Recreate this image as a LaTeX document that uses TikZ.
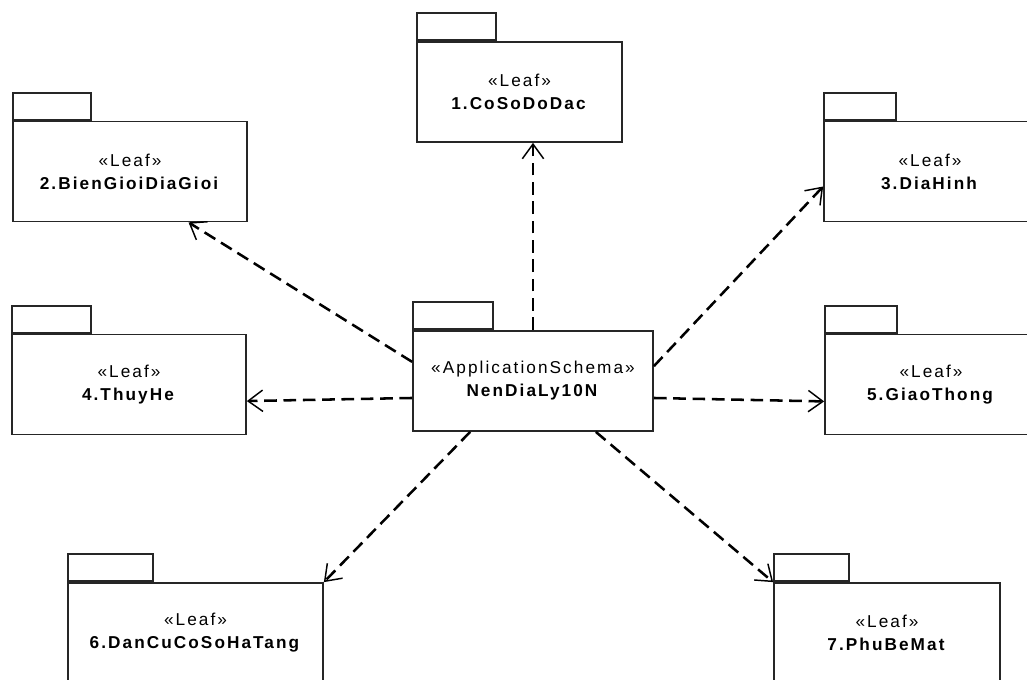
\documentclass[tikz,border=0pt]{standalone}
\usepackage{fontspec}
\setmainfont{Liberation Sans}[LetterSpace=12]
\usetikzlibrary{arrows.meta}
\tikzset{
    pkg/.style={draw=black!85, line width=1.3pt, fill=white, rectangle, minimum height=75pt, inner sep=0pt, align=center, font=\fontsize{12.9}{17.3}\selectfont},
    pkgtab/.style={draw=black!85, line width=1.3pt, fill=white, rectangle, minimum height=20.25pt, inner sep=0pt, anchor=south west},
    dep/.style={line width=1.9pt, dash pattern=on 9.5pt off 5pt, -{Straight Barb[length=11pt, width=16pt, line width=1.1pt]}}
}

\begin{document}
\begin{tikzpicture}[x=0.75pt, y=-0.75pt]
    \useasboundingbox (0,0) rectangle (1027,680);
    \node[pkg, minimum width=180pt] (c) at (533,381) {«ApplicationSchema»\\\textbf{NenDiaLy10N}};
    \node[pkg, minimum width=153.75pt] (p1) at (519.5,92) {«Leaf»\\\textbf{1.CoSoDoDac}};
    \node[pkg, minimum width=175.5pt] (p2) at (130,171.5) {«Leaf»\\\textbf{2.BienGioiDiaGioi}};
    \node[pkg, minimum width=159pt] (p3) at (930,171.5) {«Leaf»\\\textbf{3.DiaHinh}};
    \node[pkg, minimum width=175.5pt] (p4) at (129,384.5) {«Leaf»\\\textbf{4.ThuyHe}};
    \node[pkg, minimum width=159pt] (p5) at (931,384.5) {«Leaf»\\\textbf{5.GiaoThong}};
    \node[pkg, minimum width=191.25pt] (p6) at (195.5,633) {«Leaf»\\\textbf{6.DanCuCoSoHaTang}};
    \node[pkg, minimum width=169.5pt] (p7) at (887,633) {«Leaf»\\\textbf{7.PhuBeMat}};
    \node[pkgtab, minimum width=60pt] (tc) at (c.north west) {};
    \node[pkgtab, minimum width=59.25pt] (t1) at (p1.north west) {};
    \node[pkgtab, minimum width=58.5pt] (t2) at (p2.north west) {};
    \node[pkgtab, minimum width=54pt] (t3) at (p3.north west) {};
    \node[pkgtab, minimum width=59.25pt] (t4) at (p4.north west) {};
    \node[pkgtab, minimum width=54pt] (t5) at (p5.north west) {};
    \node[pkgtab, minimum width=63.75pt] (t6) at (p6.north west) {};
    \node[pkgtab, minimum width=56.25pt] (t7) at (p7.north west) {};
    \draw[dep] (c.north) -- (c.north |- p1.south);
    \draw[dep] (c.171) -- (p2.-41);
    \draw[dep] (c.7) -- (p3.188);
    \draw[dep] (c.188) -- (p4.-8);
    \draw[dep] (c.-8) -- (p5.189);
    \draw[dep] (c.219) -- (p6.north east);
    \draw[dep] (c.-39) -- (p7.north west);
\end{tikzpicture}
\end{document}
